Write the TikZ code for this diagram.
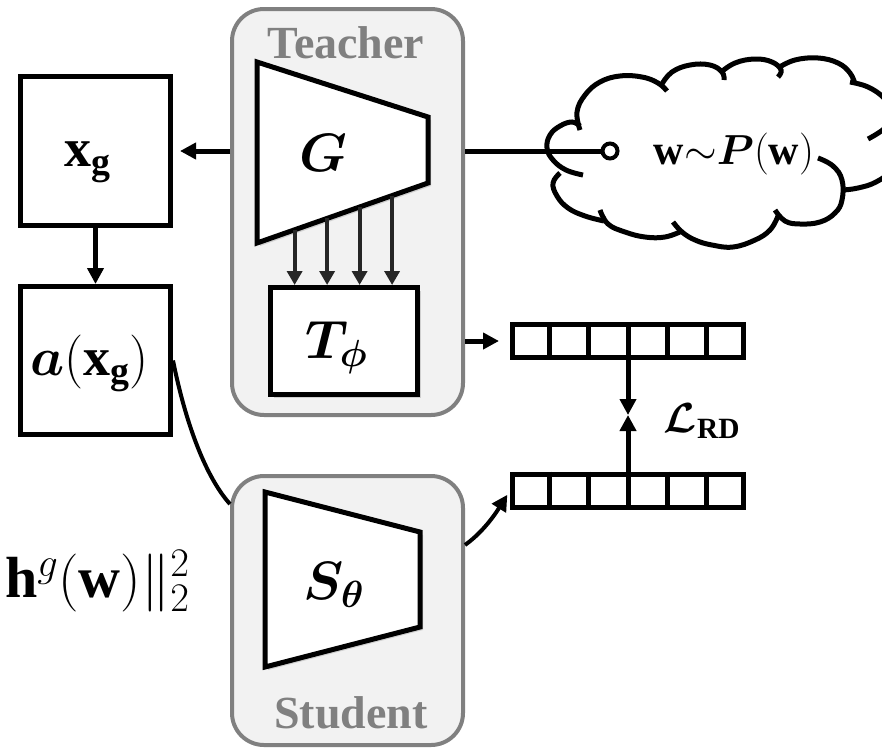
\RequirePackage{fix-cm}
\documentclass[tikz,border=0pt]{standalone}
\usepackage{amsmath,bm}
\usepackage{fontspec}
\setmainfont{Liberation Serif}
\usetikzlibrary{arrows.meta,shadows,calc}

\definecolor{boxgray}{HTML}{808080}
\definecolor{boxfill}{HTML}{F2F2F2}
\definecolor{tapgray}{HTML}{262626}

\tikzset{
  container/.style={draw=boxgray, fill=boxfill, line width=4pt, rounded corners=32pt, inner sep=0pt},
  block/.style={draw=black, fill=white, line width=5pt, inner sep=0pt},
  shade/.style={drop shadow={opacity=0.3, shadow xshift=3pt, shadow yshift=-3pt}},
  arr/.style={line width=5pt, -{Triangle[length=16pt,width=16pt]}},
  tap/.style={draw=tapgray, line width=4pt, -{Triangle[length=14pt,width=15pt]}},
  lbl/.style={font=\fontsize{54}{58}\selectfont, inner sep=0pt},
  small/.style={font=\fontsize{42}{46}\selectfont, inner sep=0pt},
  title/.style={font=\fontsize{46}{50}\selectfont\bfseries, text=boxgray, inner sep=0pt, anchor=base},
  vec/.style={draw=black, fill=white, line width=5pt, inner sep=0pt, minimum width=231pt, minimum height=33pt},
  lobe/.style={line width=5pt, smooth, tension=0.7},
}

\begin{document}
\begin{tikzpicture}[x=1pt, y=-1pt]
\useasboundingbox (0,0) rectangle (882,750);
\clip (0,0) rectangle (882,750);

% teacher and student frames
\node[container, minimum width=231pt, minimum height=406pt] (teacher) at (347.5,212) {};
\node[container, minimum width=231pt, minimum height=269pt] (student) at (347.5,610.5) {};
\node[title] (teachername) at (346,58) {Teacher};
\node[title] (studentname) at (351,728) {Student};

% generator G
\coordinate (Gtl) at (257,62);
\coordinate (Gtr) at (428,117);
\coordinate (Gbr) at (428,183);
\coordinate (Gbl) at (257,243);
\draw[block, shade] (Gtl) -- (Gtr) -- (Gbr) -- (Gbl) -- cycle;
\node[lbl] (Glabel) at (323,153) {$\bm{G}$};

% teacher head T_phi
\node[block, shade, minimum width=147pt, minimum height=107pt] (Tbox) at (344,341) {};
\node[lbl] (Tlabel) at (336.5,348) {$\bm{T}_{\bm{\phi}}$};

% student S_theta
\draw[block, shade] (265,492) -- (420,532) -- (420,627) -- (265,667) -- cycle;
\node[lbl] (Slabel) at (334,585) {$\bm{S}_{\bm{\theta}}$};

% feature taps from G into T_phi
\foreach \f in {0.22,0.41,0.6,0.79} {
  \coordinate (tap) at ($(Gbl)!\f!(Gbr)$);
  \draw[tap] (tap) -- (tap |- Tbox.north);
}

% generated image and augmentation
\node[block, minimum width=150pt, minimum height=149pt] (xg) at (95.5,151) {};
\node[lbl] (xglabel) at (88,162) {$\mathbf{x}_{\mathbf{g}}$};
\node[block, minimum width=150pt, minimum height=148pt] (ax) at (95.5,360.5) {};
\node[lbl] (axlabel) at (89.5,363) {$\bm{a}(\mathbf{x}_{\mathbf{g}})$};

\draw[arr, shorten >=7pt] (teacher.west |- xg.east) -- (xg.east);
\draw[arr] (xg.south) -- (ax.north);

% latent sampling cloud, one arc per lobe
\draw[lobe] plot coordinates {(583,175) (566,170) (553,160) (547,148) (550,135) (560,126) (572,122) (580,126)};
\draw[lobe] plot coordinates {(580,130) (577,112) (585,95) (600,82) (620,76) (642,77) (658,83) (667,91)};
\draw[lobe] plot coordinates {(662,84) (672,72) (690,65) (710,65) (722,72) (724,80)};
\draw[lobe] plot coordinates {(720,73) (735,63) (755,59) (772,62) (781,70) (778,77)};
\draw[lobe] plot coordinates {(778,68) (795,60) (818,58) (838,63) (850,73) (855,84)};
\draw[lobe] plot coordinates {(850,82) (868,87) (884,98) (893,112) (886,127) (868,139)};
\draw[lobe] plot coordinates {(897,150) (891,170) (876,182) (858,188) (843,190)};
\draw[lobe] plot coordinates {(818,158) (833,166) (842,180) (842,200) (835,213) (820,222) (800,224) (785,221) (775,210)};
\draw[lobe] plot coordinates {(778,216) (770,230) (755,240) (733,247) (712,245) (695,240) (682,232) (673,222)};
\draw[lobe] plot coordinates {(682,231) (665,237) (645,237) (625,232) (608,224) (600,210)};
\draw[lobe] plot coordinates {(604,221) (585,216) (568,208) (557,196) (553,183) (560,173)};

\node[small] (wtext) at (734,154) {$\mathbf{w}{\sim}\bm{P}(\mathbf{w})$};
\node[circle, draw, line width=4pt, fill=white, minimum size=15pt, inner sep=0pt] (src) at (610,151) {};
\draw[line width=5pt] (src.west) -- (src.west -| teacher.east);

% representation vectors
\node[vec] (topvec) at (628,341) {};
\node[vec] (botvec) at (628,490.5) {};
\foreach \v in {topvec,botvec} {
  \foreach \i in {1,...,5} {
    \draw[line width=5pt] ($(\v.north west)!\i/6!(\v.north east)$) -- ($(\v.south west)!\i/6!(\v.south east)$);
  }
}

\draw[arr, shorten >=11pt] (teacher.east |- topvec.west) -- (topvec.west);
\draw[arr, line width=4pt, shorten >=5pt] ($(student.north east)!0.26!(student.south east)$)
  .. controls (486,530) and (499,508) .. (botvec.west);

\coordinate (meet) at (628,415);
\draw[arr] (topvec.south) -- (meet);
\draw[arr] (botvec.north) -- (meet);
\node[small] (loss) at (702,421) {$\bm{\mathcal{L}}_{\mathbf{RD}}$};

% augmented image fed to the student
\draw[line width=4pt] (ax.east) .. controls (188,435) and (210,482) ..
  ($(student.north west)!0.11!(student.south west)$);

\node[font=\fontsize{58}{62}\selectfont, inner sep=0pt, anchor=west] (hnorm) at (5,581) {$\mathbf{h}^{g}(\mathbf{w})\|_2^2$};
\end{tikzpicture}
\end{document}
